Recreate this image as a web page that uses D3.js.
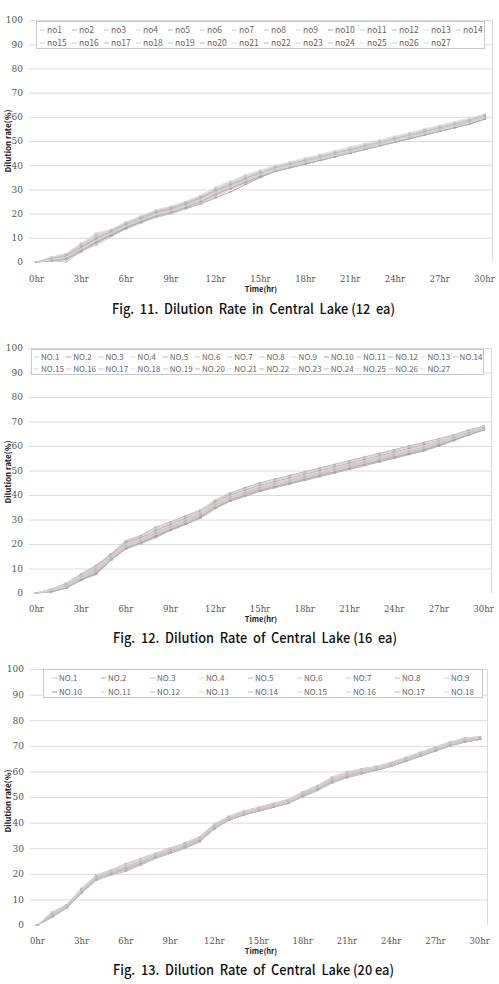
<!DOCTYPE html>
<html>
<head>
<meta charset="utf-8">
<script src="https://cdn.jsdelivr.net/npm/d3@7"></script>
<style>
	body { margin: 0; background: #fff; }
	text { font-family: "Noto Sans CJK KR", "Noto Sans", sans-serif; }
</style>
</head>
<body>
<script>
// categories (one point per hour) and the y ticks
var hours = ['0hr','1hr','2hr','3hr','4hr','5hr','6hr','7hr','8hr','9hr','10hr',
	'11hr','12hr','13hr','14hr','15hr','16hr','17hr','18hr','19hr','20hr',
	'21hr','22hr','23hr','24hr','25hr','26hr','27hr','28hr','29hr','30hr'];
var hourLabels = ['0hr','3hr','6hr','9hr','12hr','15hr','18hr','21hr','24hr','27hr','30hr'];
var rateTicks = [0, 10, 20, 30, 40, 50, 60, 70, 80, 90, 100];

// Fig. 11 - 12 ea
var names12 = ['no1','no2','no3','no4','no5','no6','no7','no8','no9','no10','no11','no12','no13','no14',
	'no15','no16','no17','no18','no19','no20','no21','no22','no23','no24','no25','no26','no27'];
var lake12 = [
	[0,1.5,3,7,11,13,16,18.5,21,22.5,24.5,27,30,33,35.5,37.5,39.5,41,42.5,44,45.5,47,48.5,50,51.5,53,54.5,56,57.5,59,61],
	[0,1,2,5,8.5,11.5,14.5,17,19.5,21,23,25.5,28,30.5,33,35.5,37.5,39.5,41,42.5,44,45.5,47,48.5,50,51.5,53,54.5,56,57.5,59.5],
	[0,0.5,0,4.5,7,10.5,14,16.5,19,20.5,22.5,24.5,27,30,32.5,35,37.5,39,40.5,42,43.5,45,46.5,48,49.5,51,52.5,54,55.5,57.5,59],
	[0,2,3.5,8,12,13.5,16.5,19,21.5,23,25,27.5,31,33.5,36,38,40,41.5,43,44.5,46,47.5,49,50.5,52,53.5,55,56.5,58,59.5,61],
	[0,1,2,6,9.5,12.5,15.5,18,20.5,22,24,26.5,29.5,32,34.5,37,39,40.5,42,43.5,45,46.5,48,49.5,51,52.5,54,55.5,57,58.5,60.5],
	[0,1.5,2.5,6.5,10,12.5,15,17.5,20,21.5,23.5,26,29,31.5,34,36.5,38.5,40,41.5,43,44.5,46,47.5,49,50.5,52,53.5,55,56.5,58,60],
	[0,0.5,1,4,8,11,14.5,17,19,21,23,25,28,31,33.5,36,38,39.5,41,42.5,44,45.5,47,48.5,50,51.5,53,54.5,56,57.5,59.5],
	[0,1,2.5,6,10,12.5,15.5,18,20.5,22,24,26.5,29.5,32,34.5,37,39,40.5,42,43.5,45,46.5,48,49.5,51,52.5,54,55.5,57,58.5,60],
	[0,1.5,3,7,11.5,13,16,18.5,21,22.5,24.5,27,30.5,33,35.5,37.5,39.5,41,42.5,44,45.5,47,48.5,50,51.5,53,54.5,56,57.5,59,60.5],
	[0,1,1.5,5,8,11,14,16.5,18.5,20,22,24,26.5,29,32,35,37.5,39,40.5,42,43.5,45,46.5,48,49.5,51,52.5,54,55.5,57,59],
	[0,1,2,5.5,9,12,15,17.5,20,21.5,23.5,26,29,31.5,34,36.5,38.5,40,41.5,43,44.5,46,47.5,49,50.5,52,53.5,55,56.5,58,60],
	[0,0.5,1.5,5,8.5,11.5,14.5,17,19.5,21,23,25.5,28.5,31,33.5,36,38,39.5,41,42.5,44,45.5,47,48.5,50,51.5,53,54.5,56,57.5,59.5],
	[0,2,3,7.5,11,13,16,18.5,21,22.5,24.5,27,30,32.5,35,37.5,39.5,41,42.5,44,45.5,47,48.5,50,51.5,53,54.5,56,57.5,59,61],
	[0,1,2,6,9,12,15,17.5,20,21.5,23.5,26,29,31.5,34,36.5,38.5,40,41.5,43,44.5,46,47.5,49,50.5,52,53.5,55,56.5,58,60],
	[0,1.5,2.5,6.5,10.5,12.5,15.5,18,20.5,22,24,26.5,29.5,32,34.5,37,39,40.5,42,43.5,45,46.5,48,49.5,51,52.5,54,55.5,57,58.5,60.5],
	[0,0.5,1,4.5,7.5,10.5,13.5,16,18.5,20,22,24.5,27.5,30.5,33,35.5,37.5,39,40.5,42,43.5,45,46.5,48,49.5,51,52.5,54,55.5,57,59],
	[0,1,2,5.5,9,12,15,17.5,20,21.5,23.5,26,29,31.5,34,36.5,38.5,40,41.5,43,44.5,46,47.5,49,50.5,52,53.5,55,56.5,58,60],
	[0,1.5,3,7,10.5,13,16,18.5,20.5,22,24,26.5,29.5,32,34.5,37,39,40.5,42,43.5,45,46.5,48,49.5,51,52.5,54,55.5,57,58.5,60.5],
	[0,1,1.5,5,8.5,11.5,14.5,17,19,20.5,22.5,25,28,30.5,33,35.5,37.5,39,40.5,42,43.5,45,46.5,48,49.5,51,52.5,54,55.5,57,59.5],
	[0,1,2.5,6,9.5,12.5,15.5,18,20.5,22,24,26.5,29.5,32,34.5,37,39,40.5,42,43.5,45,46.5,48,49.5,51,52.5,54,55.5,57,58.5,60.5],
	[0,2,3.5,7.5,11.5,13.5,16.5,19,21.5,23,25,27.5,30.5,33,35.5,37.5,39.5,41,42.5,44,45.5,47,48.5,50,51.5,53,54.5,56,57.5,59,61],
	[0,0.5,1,4.5,8,11,14,16.5,19,20.5,22.5,25,28,30.5,33,35.5,37.5,39,40.5,42,43.5,45,46.5,48,49.5,51,52.5,54,55.5,57,59],
	[0,1,2,5.5,9,12,15,17.5,20,21.5,23.5,26,29,31.5,34,36.5,38.5,40,41.5,43,44.5,46,47.5,49,50.5,52,53.5,55,56.5,58,60],
	[0,1.5,2.5,6.5,10,12.5,15.5,18,20.5,22,24,26.5,29.5,32,34.5,37,39,40.5,42,43.5,45,46.5,48,49.5,51,52.5,54,55.5,57,58.5,60.5],
	[0,1,2,5.5,9,12,15,17.5,19.5,21,23,25.5,28.5,31,33.5,36,38,39.5,41,42.5,44,45.5,47,48.5,50,51.5,53,54.5,56,57.5,59.5],
	[0,1.5,3,7,11,13,16,18.5,21,22.5,24.5,27,30,32.5,35,37,39,40.5,42,43.5,45,46.5,48,49.5,51,52.5,54,55.5,57,58.5,60.5],
	[0,1,2,5.5,9,12,15,17.5,20,21.5,23.5,26,29,31.5,34,36.5,38.5,40,41.5,43,44.5,46,47.5,49,50.5,52,53.5,55,56.5,58,60]
];

// Fig. 12 - 16 ea
var names16 = ['NO.1','NO.2','NO.3','NO.4','NO.5','NO.6','NO.7','NO.8','NO.9','NO.10','NO.11','NO.12','NO.13','NO.14',
	'NO.15','NO.16','NO.17','NO.18','NO.19','NO.20','NO.21','NO.22','NO.23','NO.24','NO.25','NO.26','NO.27'];
var lake16 = [
	[0,1,3,7,10,15,20.5,22.5,25.5,28,30.5,33,37,40,42,44,45.5,47,48.5,50,51.5,53,54.5,56,57.5,59,60.5,62,64,66,68],
	[0,0.5,2,5.5,8,13.5,18,20.5,23,26,28,31,35,38,40,42,43.5,45,46.5,48,49.5,51,52.5,54,55.5,57,58.5,60.5,62.5,64.5,67],
	[0,1.5,4,7.5,11,16,21,23,26.5,29,31.5,34,38,41,43,45,46.5,48,49.5,51,52.5,54,55.5,57,58.5,60,61.5,63,64.5,66.5,68],
	[0,1,3,6.5,9.5,14.5,19.5,21.5,24.5,27,29.5,32.5,36,39,41,43,44.5,46,47.5,49,50.5,52,53.5,55,56.5,58,59.5,61.5,63.5,65.5,67.5],
	[0,1,2.5,6,9,14,19,21,24,26.5,29,32,35.5,38.5,40.5,42.5,44,45.5,47,48.5,50,51.5,53,54.5,56,57.5,59,61,63,65,67],
	[0,1.5,3.5,7,10.5,15.5,20,22,25,27.5,30,33,36.5,39.5,41.5,43.5,45,46.5,48,49.5,51,52.5,54,55.5,57,58.5,60,62,64,66,68],
	[0,0.5,2,5.5,8.5,14,18.5,20.5,23.5,26,28.5,31.5,35,38,40,42,43.5,45,46.5,48,49.5,51,52.5,54,55.5,57,58.5,60.5,62.5,65,67],
	[0,1,3.5,7.5,11,15.5,21,23.5,27,29,31.5,33.5,37.5,40.5,43,45,46.5,48,49.5,51,52.5,54,55.5,57,58.5,60,61.5,63,64.5,66.5,68],
	[0,1,3,6.5,10,14.5,19.5,21.5,24.5,27,29.5,32.5,36,39,41,43,44.5,46,47.5,49,50.5,52,53.5,55,56.5,58,59.5,61.5,63.5,65.5,67.5],
	[0,1,2.5,5.5,7.5,13.5,18,20.5,23,25.5,28,30.5,34.5,37.5,39.5,41.5,43,44.5,46,47.5,49,50.5,52,53.5,55,56.5,58,60,62.5,64.5,66.5],
	[0,1.5,4,7,10.5,15,20.5,22.5,25.5,28,30.5,33,36.5,39.5,41.5,43.5,45,46.5,48,49.5,51,52.5,54,55.5,57,58.5,60,62,64,66,68],
	[0,1,3,6.5,9.5,14.5,19.5,21.5,24.5,27,29.5,32.5,36,39,41,43,44.5,46,47.5,49,50.5,52,53.5,55,56.5,58,59.5,61.5,63.5,65.5,67.5],
	[0,0.5,2,6,9,14,18.5,21,24,26.5,29,32,35.5,38.5,40.5,42.5,44,45.5,47,48.5,50,51.5,53,54.5,56,57.5,59,61,63,65,67],
	[0,1,3.5,7,10,15,20,22,25,27.5,30,33,36.5,39.5,41.5,43.5,45,46.5,48,49.5,51,52.5,54,55.5,57,58.5,60,62,64,66,68],
	[0,1,3,6.5,9.5,14,19,21.5,24.5,27,29.5,32.5,36,39,41,43,44.5,46,47.5,49,50.5,52,53.5,55,56.5,58,59.5,61.5,63.5,65.5,67.5],
	[0,1.5,4,8,11.5,16,21.5,23.5,26,28.5,31,33.5,37.5,40.5,42.5,44.5,46,47.5,49,50.5,52,53.5,55,56.5,58,59.5,61,62.5,64.5,66.5,68],
	[0,0.5,2,5,8,13.5,18,20,22.5,25.5,28,31,34.5,37.5,39.5,41.5,43,44.5,46,47.5,49,50.5,52,53.5,55,56.5,58,60,62,64.5,66.5],
	[0,1,3,6.5,9.5,14.5,19.5,21.5,24.5,27,29.5,32.5,36,39,41,43,44.5,46,47.5,49,50.5,52,53.5,55,56.5,58,59.5,61.5,63.5,65.5,67.5],
	[0,1,2.5,6,9,14,19,21,24,26.5,29,32,35.5,38.5,40.5,42.5,44,45.5,47,48.5,50,51.5,53,54.5,56,57.5,59,61,63,65,67],
	[0,1.5,3.5,7,10.5,15.5,20.5,22.5,25.5,28,30.5,33,37,40,42,44,45.5,47,48.5,50,51.5,53,54.5,56,57.5,59,60.5,62,64,66,68],
	[0,1,3,6.5,9.5,14.5,19.5,21.5,24.5,27,29.5,32.5,36,39,41,43,44.5,46,47.5,49,50.5,52,53.5,55,56.5,58,59.5,61.5,63.5,65.5,67.5],
	[0,0.5,2,5.5,8.5,13.5,18.5,20.5,23.5,26,28.5,31.5,35,38,40,42,43.5,45,46.5,48,49.5,51,52.5,54,55.5,57,58.5,60.5,62.5,64.5,67],
	[0,1,3,7,10,15,20,22,25,27.5,30,33,36.5,39.5,41.5,43.5,45,46.5,48,49.5,51,52.5,54,55.5,57,58.5,60,62,64,66,68],
	[0,1,2.5,6,9,14,19,21,24,26.5,29,32,35.5,38.5,40.5,42.5,44,45.5,47,48.5,50,51.5,53,54.5,56,57.5,59,61,63,65,67],
	[0,1.5,3.5,7,10.5,15,20,22,25,27.5,30,33,36.5,39.5,41.5,43.5,45,46.5,48,49.5,51,52.5,54,55.5,57,58.5,60,62,64,66,68],
	[0,1,3,6.5,9.5,14.5,19.5,21.5,24.5,27,29.5,32.5,36,39,41,43,44.5,46,47.5,49,50.5,52,53.5,55,56.5,58,59.5,61.5,63.5,65.5,67.5],
	[0,1,2.5,6,9,14,19,21,24,26.5,29,32,35.5,38.5,40.5,42.5,44,45.5,47,48.5,50,51.5,53,54.5,56,57.5,59,61,63,65,67]
];

// Fig. 13 - 20 ea
var names20 = ['NO.1','NO.2','NO.3','NO.4','NO.5','NO.6','NO.7','NO.8','NO.9',
	'NO.10','NO.11','NO.12','NO.13','NO.14','NO.15','NO.16','NO.17','NO.18'];
var lake20 = [
	[0,4.5,8,14,19,21,23.5,25.5,27.5,29.5,31.5,34,39,42,44,45.5,47,48.5,51.5,54,57,59,60.5,61.5,63,65,67,69,71,72.5,73.5],
	[0,3,7,12.5,18,20,21.5,23.5,26,28,30,32.5,37.5,41,43,44.5,46,47.5,50.5,53,56,58,59.5,60.5,62,64,66,68,70,71.5,72.5],
	[0,5,7.5,14,19.5,21.5,24,26,28,30,32,34.5,39,42.5,44.5,46,47.5,49,52,54.5,57.5,59.5,61,62,63.5,65.5,67.5,69.5,71.5,73,73.5],
	[0,4,7.5,13.5,18.5,20.5,22.5,24.5,27,29,31,33.5,38.5,41.5,43.5,45,46.5,48,51,53.5,56.5,58.5,60,61,62.5,64.5,66.5,68.5,70.5,72,73],
	[0,3.5,7,13,18,20,22,24,26.5,28.5,30.5,33,38,41,43,44.5,46,47.5,50.5,53,56,58,59.5,60.5,62,64,66,68,70,71.5,72.5],
	[0,4.5,8,14,19,21,23,25,27.5,29.5,31.5,34,39,42,44,45.5,47,48.5,51.5,54,57,59,60.5,61.5,63,65,67,69,71,72.5,73.5],
	[0,4,7.5,13.5,18.5,20.5,22.5,24.5,27,29,31,33.5,38.5,41.5,43.5,45,46.5,48,51,53.5,56.5,58.5,60,61,62.5,64.5,66.5,68.5,70.5,72,73],
	[0,3,6.5,12.5,17.5,19.5,21,23.5,26,28,30,32.5,37.5,41,43,44.5,46,47.5,50,52.5,55.5,57.5,59,60.5,62,64,66,68,70,71.5,72.5],
	[0,5,8,14.5,19.5,21.5,24,26,28,30,32,34.5,39.5,42.5,44.5,46,47.5,49,52,54.5,58,60,61,62,63.5,65.5,67.5,69.5,71.5,73,73.5],
	[0,4,7.5,13.5,18.5,20.5,22.5,24.5,27,29,31,33.5,38.5,41.5,43.5,45,46.5,48,51,53.5,56.5,58.5,60,61,62.5,64.5,66.5,68.5,70.5,72,73],
	[0,3.5,7,13,18,20,22,24,26.5,28.5,30.5,33,38,41,43,44.5,46,47.5,50.5,53,56,58,59.5,60.5,62,64,66,68,70,71.5,72.5],
	[0,4.5,8,14,19,21,23,25,27.5,29.5,31.5,34,39,42,44,45.5,47,48.5,51.5,54,57,59,60.5,61.5,63,65,67,69,71,72.5,73.5],
	[0,4,7.5,13.5,18.5,20.5,22.5,24.5,27,29,31,33.5,38.5,41.5,43.5,45,46.5,48,51,53.5,56.5,58.5,60,61,62.5,64.5,66.5,68.5,70.5,72,73],
	[0,3,7,12.5,17.5,19.5,21,23.5,26,28,30,32.5,37.5,41,43,44.5,46,47.5,50,52.5,55.5,57.5,59,60.5,62,64,66,68,70,71.5,72.5],
	[0,5,8,14,19.5,21.5,24,26,28,30,32,34.5,39.5,42.5,44.5,46,47.5,49,52,54.5,57.5,59.5,61,62,63.5,65.5,67.5,69.5,71.5,73,73.5],
	[0,4,7.5,13.5,18.5,20.5,22.5,24.5,27,29,31,33.5,38.5,41.5,43.5,45,46.5,48,51,53.5,56.5,58.5,60,61,62.5,64.5,66.5,68.5,70.5,72,73],
	[0,3.5,7,13,18,20,22,24,26.5,28.5,30.5,33,38,41,43,44.5,46,47.5,50.5,53,56,58,59.5,60.5,62,64,66,68,70,71.5,72.5],
	[0,4.5,7.5,13.5,19,21,23,25,27.5,29.5,31.5,34,39,42,44,45.5,47,48.5,51.5,54,57,59,60.5,61.5,63,65,67,69,71,72.5,73.5]
];

// faded line colours, mostly greys with a few reds
var palette = ['#cdcdcd','#dc9a9a','#c2c2c2','#d9d9d9','#b2b2b2','#e3bcbc','#c8c8c8','#bcbcbc','#d3d3d3',
	'#c98a8a','#d1d1d1','#b6b6b6','#dddddd','#c0c0c0','#e6cccc','#cacaca','#b9b9b9','#d6d6d6',
	'#c4c4c4','#d4a3a3','#dbdbdb','#afafaf','#cecece','#bebebe','#dfdfdf','#c6c6c6','#d7d7d7'];

var svg = d3.select('body').append('svg')
	.attr('width', 499)
	.attr('height', 984)
	.style('display', 'block');

svg.append('rect').attr('width', 499).attr('height', 984).attr('fill', '#fff');

// one chart = plot box + legend box + caption
function drawChart(cfg) {
	var g = svg.append('g');

	var xScale = d3.scaleBand().domain(hours).range([cfg.left, cfg.right]).padding(0),
		yScale = d3.scaleLinear().domain([0, 100]).range([cfg.bottom, cfg.top]);
	var half = xScale.bandwidth() / 2;

	// horizontal gridlines
	g.selectAll('.grid')
		.data(rateTicks.slice(1))
		.enter().append('line')
		.attr('x1', cfg.left).attr('x2', cfg.right)
		.attr('y1', function(d) { return yScale(d) + 0.5; })
		.attr('y2', function(d) { return yScale(d) + 0.5; })
		.attr('stroke', '#dcdcdc')
		.attr('stroke-width', 1);

	// right border of plot area
	g.append('line')
		.attr('x1', cfg.right + 0.5).attr('x2', cfg.right + 0.5)
		.attr('y1', cfg.top).attr('y2', cfg.bottom)
		.attr('stroke', '#dcdcdc');

	// y axis
	var yAxis = g.append('g')
		.attr('transform', 'translate(' + (cfg.left - 6) + ',0)')
		.call(d3.axisLeft(yScale).tickValues(rateTicks).tickSize(0).tickPadding(0));
	yAxis.select('.domain').remove();
	yAxis.selectAll('text')
		.attr('fill', '#555')
		.style('font-size', '9px')
		.style('font-family', '"DejaVu Serif", serif');

	// x axis, a label every third hour
	var xAxis = g.append('g')
		.attr('transform', 'translate(0,' + cfg.xLabelY + ')')
		.call(d3.axisBottom(xScale).tickValues(hourLabels).tickSize(0).tickPadding(0));
	xAxis.select('.domain').remove();
	xAxis.selectAll('text')
		.attr('y', 0).attr('dy', 0)
		.attr('fill', '#555')
		.style('font-size', '8.5px')
		.style('font-family', '"DejaVu Serif", serif');

	// axis titles
	g.append('text')
		.attr('x', 261).attr('y', cfg.xLabelY + 10)
		.attr('text-anchor', 'middle')
		.style('font-size', '7.5px')
		.style('font-weight', 'bold')
		.attr('fill', '#222')
		.text('Time(hr)');

	g.append('text')
		.attr('transform', 'translate(11,' + cfg.yTitleY + ') rotate(-90)')
		.attr('text-anchor', 'middle')
		.style('font-size', '8px')
		.style('font-weight', 'bold')
		.attr('fill', '#222')
		.text('Dilution rate(%)');

	// series lines
	var line = d3.line()
		.x(function(d, i) { return xScale(hours[i]) + half; })
		.y(function(d) { return yScale(d); });

	cfg.series.forEach(function(values, k) {
		var col = palette[k % palette.length];
		g.append('path')
			.datum(values)
			.attr('d', line)
			.attr('fill', 'none')
			.attr('stroke', col)
			.attr('stroke-width', 0.8);
		// dash markers
		g.selectAll(null)
			.data(values)
			.enter().append('line')
			.attr('x1', function(d, i) { return xScale(hours[i]) + half - 1.5; })
			.attr('x2', function(d, i) { return xScale(hours[i]) + half + 1.5; })
			.attr('y1', function(d) { return yScale(d); })
			.attr('y2', function(d) { return yScale(d); })
			.attr('stroke', d3.color(col).darker(0.3))
			.attr('stroke-width', 0.7);
	});

	// legend box
	var lg = g.append('g');
	lg.append('rect')
		.attr('x', cfg.legend.x + 0.5).attr('y', cfg.legend.y + 0.5)
		.attr('width', cfg.legend.w).attr('height', cfg.legend.h)
		.attr('fill', '#fff')
		.attr('stroke', '#c8c8c8');

	var items = lg.selectAll('.item')
		.data(cfg.names)
		.enter().append('g')
		.attr('transform', function(d, i) {
			var col = i % cfg.legend.cols,
				row = Math.floor(i / cfg.legend.cols);
			return 'translate(' + (cfg.legend.tx + col * cfg.legend.colW) + ',' + cfg.legend.rows[row] + ')';
		});
	items.append('line')
		.attr('x1', -7).attr('x2', -2)
		.attr('y1', -3).attr('y2', -3)
		.attr('stroke', function(d, i) { return palette[i % palette.length]; })
		.attr('stroke-width', 1);
	items.append('text')
		.attr('x', 0).attr('y', 0)
		.style('font-size', cfg.legend.fs + 'px')
		.attr('fill', '#666')
		.text(function(d) { return d; });

	// caption, keep the double spaces of the original
	g.append('text')
		.attr('x', cfg.capX).attr('y', cfg.capY)
		.attr('textLength', cfg.capW)
		.attr('lengthAdjust', 'spacingAndGlyphs')
		.style('white-space', 'pre')
		.style('font-size', '14px')
		.style('font-weight', '500')
		.attr('fill', '#111')
		.text(cfg.caption);
}

drawChart({
	left: 29, right: 492, top: 20, bottom: 262,
	xLabelY: 282, yTitleY: 141,
	series: lake12, names: names12,
	legend: {x: 36, y: 21, w: 448, h: 27, cols: 14, colW: 32, tx: 47, rows: [33, 46], fs: 8.5},
	caption: 'Fig.  11.  Dilution  Rate  in  Central  Lake (12  ea)',
	capX: 112, capY: 314, capW: 283
});

drawChart({
	left: 29, right: 491, top: 348, bottom: 593,
	xLabelY: 612, yTitleY: 472,
	series: lake16, names: names16,
	legend: {x: 31, y: 349, w: 452, h: 25, cols: 14, colW: 32.2, tx: 41, rows: [360, 372], fs: 8},
	caption: 'Fig.  12.  Dilution  Rate  of  Central  Lake (16  ea)',
	capX: 113, capY: 643, capW: 284
});

drawChart({
	left: 30, right: 487, top: 669, bottom: 925,
	xLabelY: 944, yTitleY: 801,
	series: lake20, names: names20,
	legend: {x: 43, y: 669, w: 439, h: 28, cols: 9, colW: 49, tx: 59, rows: [681, 695], fs: 8},
	caption: 'Fig.  13.  Dilution  Rate  of  Central  Lake (20 ea)',
	capX: 113, capY: 975, capW: 281
});
</script>
</body>
</html>
